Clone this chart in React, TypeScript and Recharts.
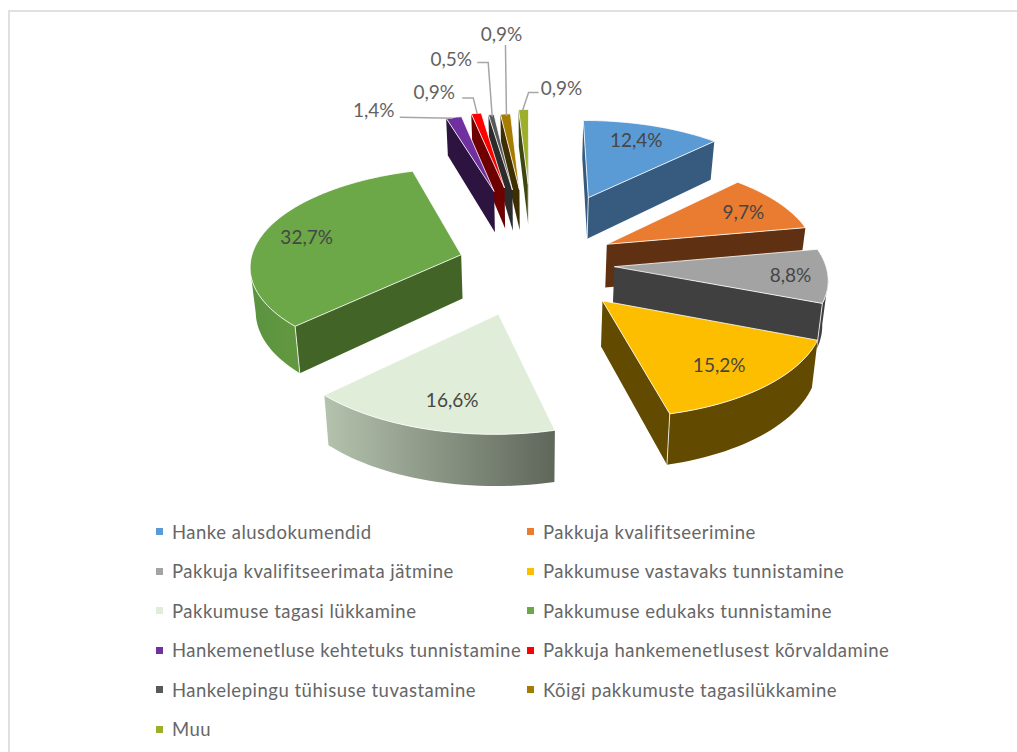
import React from "react";
import { PieChart, Pie, Legend } from "recharts";

// ---- data ----
const categories = [
  "Hanke alusdokumendid",
  "Pakkuja kvalifitseerimine",
  "Pakkuja kvalifitseerimata jätmine",
  "Pakkumuse vastavaks tunnistamine",
  "Pakkumuse tagasi lükkamine",
  "Pakkumuse edukaks tunnistamine",
  "Hankemenetluse kehtetuks tunnistamine",
  "Pakkuja hankemenetlusest kõrvaldamine",
  "Hankelepingu tühisuse tuvastamine",
  "Kõigi pakkumuste tagasilükkamine",
  "Muu",
];
const values = [12.4, 9.7, 8.8, 15.2, 16.6, 32.7, 1.4, 0.9, 0.5, 0.9, 0.9];
const valueLabels = ["12,4%", "9,7%", "8,8%", "15,2%", "16,6%", "32,7%", "1,4%", "0,9%", "0,5%", "0,9%", "0,9%"];

// ---- styles ----
const topColors = ["#5b9bd5", "#e97c30", "#a3a3a3", "#fdbe00", "#e0edd8", "#6ca748", "#7030a0", "#ff0000", "#595959", "#a67c00", "#9dae2b"];
const radialColors = ["#365b7e", "#5f3112", "#404040", "#624a00", "#8a9485", "#426426", "#2d1340", "#6e0000", "#2b2b2b", "#3f2f00", "#3e4710"];
const rimFrom = ["#365b7e", "#5f3112", "#404040", "#624a00", "#b4c3ad", "#5b9240", "#2d1340", "#6e0000", "#2b2b2b", "#3f2f00", "#3e4710"];
const rimTo = ["#365b7e", "#5f3112", "#404040", "#624a00", "#5f665a", "#62993f", "#2d1340", "#6e0000", "#2b2b2b", "#3f2f00", "#3e4710"];
const explosions = [0.78, 0.42, 0.4, 0.5, 0.52, 0.34, 0.82, 0.85, 0.82, 0.82, 0.88];
const insideRadius = [0.78, 0.75, 0.84, 0.76, 0.73, 0.795, 0, 0, 0, 0, 0];
const insideNudge = [[-3, -1], [6.5, -1], [-3, 0], [-5, 0], [4, 4], [2, 0]];
const outsideText: Record<number, number[]> = { 6: [-80, -7.5], 7: [-42, -21.5], 8: [-40, -56], 9: [-4, -81], 10: [38, -22] };
const leaders: Record<number, number[][]> = {
  6: [[-54, 0], [-1, 1]],
  7: [[-14, -15.5], [-3, -15.5], [1, 0.5]],
  8: [[-14, -52], [-3, -52], [1, 2]],
  9: [[0, -69], [1, 2]],
  10: [[15, -17], [5, -17], [-1, 1]],
};

const FONT = "Lato, 'Open Sans', sans-serif";
const CX = 530;
const SMALL_CX = 533;
const CY = 263;
const RADIUS = 211;
const TILT = 0.46;
const PERSPECTIVE = 0.1;
const DEPTH = 44;
const SHRINK = 0.98;
const EDGE = "rgba(255,255,255,0.8)";

const rad = (d: number) => (d * Math.PI) / 180;
const toPoint = (px: number, py: number, cx: number, cy: number, R: number) => {
  const s = 1 / (1 + PERSPECTIVE * py);
  return { x: cx + R * px * s, y: cy - R * TILT * py * s, s };
};
const lower = (p: { x: number; y: number; s: number }, cx: number) => ({
  x: cx + (p.x - cx) * SHRINK,
  y: p.y + DEPTH * p.s,
});
const toPath = (pts: { x: number; y: number }[]) =>
  "M" + pts.map((p) => `${p.x.toFixed(2)},${p.y.toFixed(2)}`).join("L") + "Z";

const rows = categories.map((name, i) => ({ name, value: values[i] }));
const bigRows = rows.slice(0, 6);
const smallRows = rows.slice(6).reverse();
const bigTotal = values.slice(0, 6).reduce((a, b) => a + b, 0);
const allTotal = values.reduce((a, b) => a + b, 0);
const smallTotal = allTotal - bigTotal;

function Slice(props: any) {
  const { cx, cy, outerRadius: R, startAngle, endAngle } = props;
  const name = props.name ?? props.payload?.name;
  const i = categories.indexOf(name);
  const th0 = 90 - Math.max(startAngle, endAngle);
  const th1 = 90 - Math.min(startAngle, endAngle);
  const mid = (th0 + th1) / 2;
  const e = explosions[i];
  const ox = e * Math.sin(rad(mid));
  const oy = e * Math.cos(rad(mid));
  const apex = toPoint(ox, oy, cx, cy, R);
  const n = Math.max(2, Math.ceil((th1 - th0) / 2));
  const arc = Array.from({ length: n + 1 }, (_, k) => {
    const t = rad(th0 + ((th1 - th0) * k) / n);
    return toPoint(ox + Math.sin(t), oy + Math.cos(t), cx, cy, R);
  });
  const a0 = arc[0];
  const a1 = arc[n];
  const faces: React.ReactNode[] = [];
  const startVisible = a0.x - apex.x < 0;
  const endVisible = apex.x - a1.x < 0;
  if (startVisible) {
    faces.push(<path key="rs" d={toPath([apex, a0, lower(a0, cx), lower(apex, cx)])} fill={radialColors[i]} />);
  }
  if (endVisible) {
    faces.push(<path key="re" d={toPath([a1, apex, lower(apex, cx), lower(a1, cx)])} fill={radialColors[i]} />);
  }
  // rim: runs of arc segments that face the viewer
  let run: typeof arc = [];
  const runs: (typeof arc)[] = [];
  for (let k = 0; k < n; k++) {
    if (arc[k + 1].x - arc[k].x < 0) {
      if (!run.length) run.push(arc[k]);
      run.push(arc[k + 1]);
    } else if (run.length) {
      runs.push(run);
      run = [];
    }
  }
  if (run.length) runs.push(run);
  const gid = `rim-${i}`;
  runs.forEach((r, k) => {
    const poly = [...r, ...r.map((p) => lower(p, cx)).reverse()];
    faces.push(<path key={`rim${k}`} d={toPath(poly)} fill={`url(#${gid})`} />);
  });
  const edges: React.ReactNode[] = [];
  const vertical = (p: typeof apex, key: string) => {
    const q = lower(p, cx);
    edges.push(<line key={key} x1={p.x} y1={p.y} x2={q.x} y2={q.y} stroke={EDGE} strokeWidth={1} />);
  };
  if (startVisible && endVisible) vertical(apex, "va");
  if (startVisible && runs.length && runs[0][0] === a0) vertical(a0, "v0");
  if (endVisible && runs.length && runs[runs.length - 1].slice(-1)[0] === a1) vertical(a1, "v1");
  return (
    <g>
      <defs>
        <linearGradient id={gid} x1="0" y1="0" x2="1" y2="0">
          <stop offset="0" stopColor={rimFrom[i]} />
          <stop offset="1" stopColor={rimTo[i]} />
        </linearGradient>
      </defs>
      {faces}
      {edges}
      <path d={toPath([apex, ...arc])} fill={topColors[i]} stroke={EDGE} strokeWidth={1} />
    </g>
  );
}

function SliceLabel(props: any) {
  const { cx, cy, outerRadius: R, midAngle } = props;
  const name = props.name ?? props.payload?.name;
  const i = categories.indexOf(name);
  const t = rad(90 - midAngle);
  const dx = Math.sin(t);
  const dy = Math.cos(t);
  const e = explosions[i];
  const text = valueLabels[i];
  if (!outsideText[i]) {
    const p = toPoint((e + insideRadius[i]) * dx, (e + insideRadius[i]) * dy, cx, cy, R);
    return (
      <text
        x={p.x + insideNudge[i][0]}
        y={p.y + insideNudge[i][1]}
        textAnchor="middle"
        dominantBaseline="central"
        fontFamily={FONT}
        fontSize={19}
        fill="#464646"
      >
        {text}
      </text>
    );
  }
  const anchor = toPoint((e + 1) * dx, (e + 1) * dy, cx, cy, R);
  const pts = leaders[i].map(([a, b]) => `${anchor.x + a},${anchor.y + b}`).join(" ");
  return (
    <g>
      <polyline points={pts} fill="none" stroke="#a6a6a6" strokeWidth={1.5} />
      <text
        x={anchor.x + outsideText[i][0]}
        y={anchor.y + outsideText[i][1]}
        textAnchor="middle"
        dominantBaseline="central"
        fontFamily={FONT}
        fontSize={19}
        fill="#636363"
      >
        {text}
      </text>
    </g>
  );
}

function LegendGrid() {
  return (
    <div
      style={{
        display: "grid",
        gridTemplateColumns: "371px 400px",
        gridAutoRows: "39.5px",
        fontFamily: FONT,
        fontSize: 18.5,
        letterSpacing: 0.5,
        color: "#666666",
        textAlign: "left",
      }}
    >
      {categories.map((c, i) => (
        <div key={c} style={{ display: "flex", alignItems: "center", whiteSpace: "nowrap" }}>
          <span style={{ width: 7, height: 7, background: topColors[i], marginRight: 9, flex: "none" }} />
          <span>{c}</span>
        </div>
      ))}
    </div>
  );
}

export default function App() {
  return (
    <div style={{ position: "absolute", left: 0, top: 0, width: 1017, height: 752, background: "#fff", overflow: "hidden" }}>
      <div style={{ position: "absolute", left: 8, top: 10, width: 1009, height: 2, background: "#e0e0e0" }} />
      <div style={{ position: "absolute", left: 8, top: 10, width: 2, height: 742, background: "#e0e0e0" }} />
      <PieChart width={1017} height={752} margin={{ top: 0, right: 0, bottom: 0, left: 0 }}>
        <Pie
          data={bigRows}
          dataKey="value"
          nameKey="name"
          cx={CX}
          cy={CY}
          outerRadius={RADIUS}
          startAngle={90}
          endAngle={90 - (360 * bigTotal) / allTotal}
          stroke="none"
          isAnimationActive={false}
          shape={Slice}
          activeShape={Slice}
          inactiveShape={Slice}
          label={SliceLabel}
          labelLine={false}
        />
        <Pie
          data={smallRows}
          dataKey="value"
          nameKey="name"
          cx={SMALL_CX}
          cy={CY}
          outerRadius={RADIUS}
          startAngle={90}
          endAngle={90 + (360 * smallTotal) / allTotal}
          stroke="none"
          isAnimationActive={false}
          shape={Slice}
          activeShape={Slice}
          inactiveShape={Slice}
          label={SliceLabel}
          labelLine={false}
        />
        <Legend
          content={<LegendGrid />}
          wrapperStyle={{ position: "absolute", left: 156, top: 512, width: 800, bottom: "auto" }}
        />
      </PieChart>
    </div>
  );
}
